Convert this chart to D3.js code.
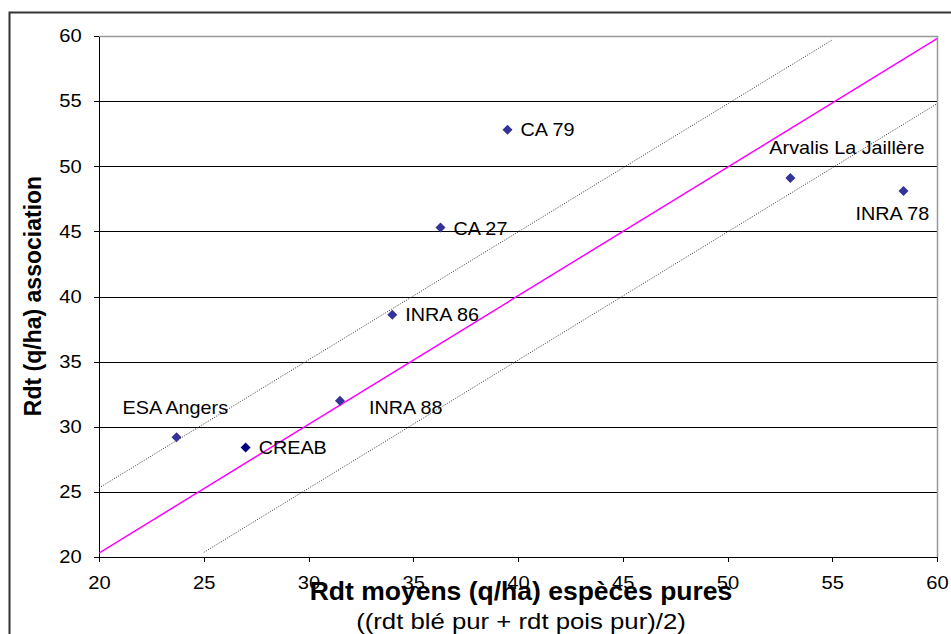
<!DOCTYPE html>
<html>
<head>
<meta charset="utf-8">
<script src="https://cdn.jsdelivr.net/npm/d3@7"></script>
<style>
    body { margin: 0; background: #fff; }
    svg { display: block; font-family: Arial, "Liberation Sans", sans-serif; }
    .grid line { stroke: #000; stroke-width: 1; shape-rendering: crispEdges; }
    .axis path, .axis line { stroke: #000; shape-rendering: crispEdges; }
    .axis text { font-size: 18px; fill: #000; }
    .site { font-size: 18px; fill: #000; }
</style>
</head>
<body>
<script>
// Sites and yields (q/ha)
const siteNames = ['ESA Angers', 'CREAB', 'INRA 88', 'INRA 86', 'CA 27', 'CA 79', 'Arvalis La Jaillère', 'INRA 78'];
const pureYield = [23.7, 27.0, 31.5, 34.0, 36.3, 39.5, 53.0, 58.4];
const assocYield = [29.2, 28.4, 32.0, 38.6, 45.3, 52.8, 49.1, 48.1];
const xTicks = [20, 25, 30, 35, 40, 45, 50, 55, 60];
const yTicks = [20, 25, 30, 35, 40, 45, 50, 55, 60];

// reference lines (x, y)
const diagonal = [[20, 20.3], [60, 59.8]];
const upperBand = [[20, 25.3], [55, 59.7]];
const lowerBand = [[25, 20.35], [60, 54.8]];

// label placement, pixels from the marker
const labelOffsets = [[-54, -23], [13, 6], [29, 13], [13, 6], [13, 8], [13, 6], [-21, -24], [-48, 29]];
const markerColors = ['#333399', '#000080', '#333399', '#333399', '#333399', '#333399', '#333399', '#333399'];

const margin = {top: 36, right: 14, bottom: 77, left: 99};
const W = 951, H = 634;
const width = W - margin.left - margin.right;
const height = H - margin.top - margin.bottom;

const svg = d3.select('body').append('svg')
    .attr('width', W)
    .attr('height', H);

// outer chart frame
svg.append('path')
    .attr('d', 'M9.5,' + H + 'V12.5H' + W)
    .attr('fill', 'none')
    .attr('stroke', '#333')
    .attr('stroke-width', 2);

const g = svg.append('g')
    .attr('transform', 'translate(' + margin.left + ',' + margin.top + ')');

const x = d3.scaleLinear().domain([20, 60]).range([0, width]);
const y = d3.scaleLinear().domain([20, 60]).range([height, 0]);

// horizontal gridlines
g.append('g')
    .attr('class', 'grid')
    .selectAll('line')
    .data(yTicks.filter(t => t > 20 && t < 60))
    .enter().append('line')
    .attr('x1', 0)
    .attr('x2', width)
    .attr('y1', d => Math.round(y(d)) + 0.5)
    .attr('y2', d => Math.round(y(d)) + 0.5);

// plot area border top / right (grey)
g.append('path')
    .attr('d', 'M0,' + (Math.round(y(60)) + 0.5) + 'H' + (Math.round(x(60)) + 0.5) + 'V' + height)
    .attr('fill', 'none')
    .attr('stroke', '#999')
    .attr('stroke-width', 1.5);

// axes
const xAxis = g.append('g')
    .attr('class', 'axis')
    .attr('transform', 'translate(0,' + height + ')')
    .call(d3.axisBottom(x).tickValues(xTicks).tickSize(5).tickSizeOuter(0));
xAxis.selectAll('text')
    .attr('y', 19)
    .attr('transform', 'scale(1.12,1)');

const yAxis = g.append('g')
    .attr('class', 'axis')
    .call(d3.axisLeft(y).tickValues(yTicks).tickSize(5).tickSizeOuter(0));
yAxis.selectAll('text')
    .attr('x', -15.5)
    .attr('transform', 'scale(1.12,1)');

// reference lines
const line = d3.line().x(d => x(d[0])).y(d => y(d[1]));

g.append('path')
    .datum(upperBand)
    .attr('d', line)
    .attr('fill', 'none')
    .attr('stroke', '#333')
    .attr('stroke-width', 1)
    .attr('stroke-dasharray', '1,1.5');

g.append('path')
    .datum(lowerBand)
    .attr('d', line)
    .attr('fill', 'none')
    .attr('stroke', '#333')
    .attr('stroke-width', 1)
    .attr('stroke-dasharray', '1,1.5');

g.append('path')
    .datum(diagonal)
    .attr('d', line)
    .attr('fill', 'none')
    .attr('stroke', '#ff00ff')
    .attr('stroke-width', 1.5);

// sites
const sites = siteNames.map((name, i) => ({
    name: name,
    px: pureYield[i],
    py: assocYield[i],
    off: labelOffsets[i],
    color: markerColors[i]
}));

const diamond = d3.symbol().type(d3.symbolSquare).size(50);

g.selectAll('.marker')
    .data(sites)
    .enter().append('path')
    .attr('class', 'marker')
    .attr('d', diamond)
    .attr('fill', d => d.color)
    .attr('transform', d => 'translate(' + x(d.px) + ',' + y(d.py) + ') rotate(45)');

g.selectAll('.site')
    .data(sites)
    .enter().append('text')
    .attr('class', 'site')
    .attr('transform', d => 'translate(' + (x(d.px) + d.off[0]) + ',' + (y(d.py) + d.off[1]) + ') scale(1.1,1)')
    .text(d => d.name);

// axis titles
svg.append('text')
    .attr('transform', 'translate(521,600)')
    .attr('text-anchor', 'middle')
    .style('font-size', '26.5px')
    .style('font-weight', 'bold')
    .text('Rdt moyens (q/ha) espèces pures');

svg.append('text')
    .attr('transform', 'translate(521,629) scale(1.17,1)')
    .attr('text-anchor', 'middle')
    .style('font-size', '22px')
    .text('((rdt blé pur + rdt pois pur)/2)');

svg.append('text')
    .attr('transform', 'translate(41,296) rotate(-90)')
    .attr('text-anchor', 'middle')
    .style('font-size', '23px')
    .style('font-weight', 'bold')
    .text('Rdt (q/ha) association');
</script>
</body>
</html>
